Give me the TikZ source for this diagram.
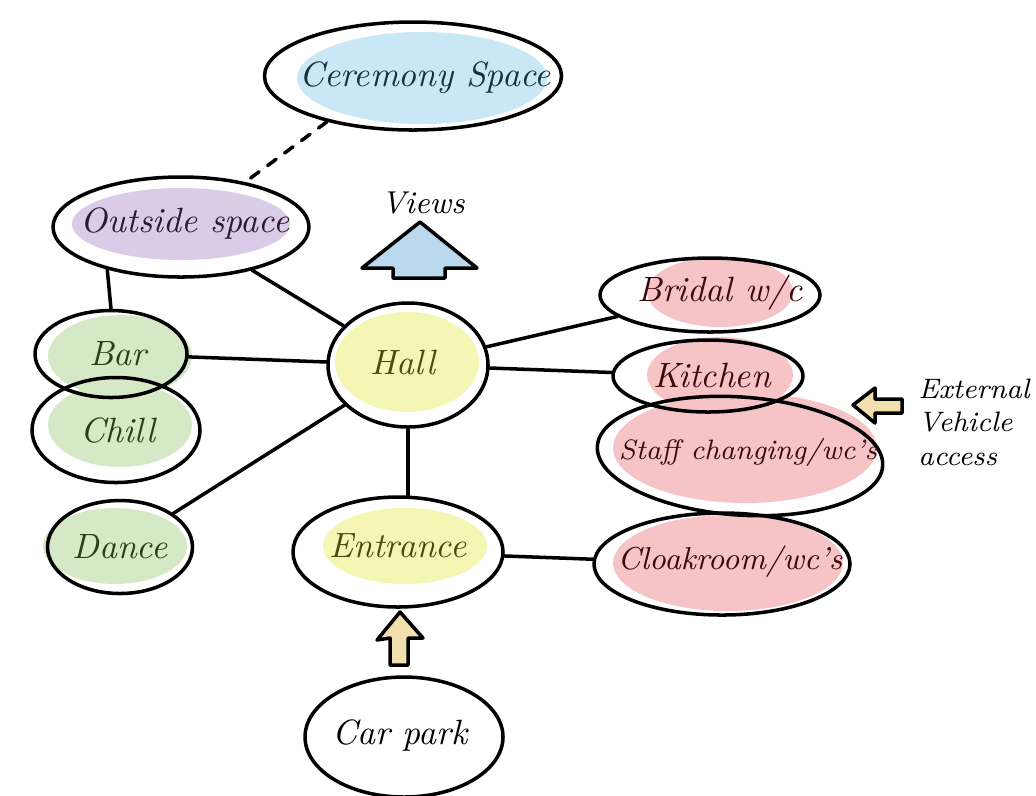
\documentclass[tikz,border=0pt]{standalone}
\usepackage{tikz}
\usetikzlibrary{shapes.geometric}
\definecolor{blueblob}{HTML}{C9E7F5}
\definecolor{purpleblob}{HTML}{DACBE6}
\definecolor{greenblob}{HTML}{D6E9C7}
\definecolor{yellowblob}{HTML}{F6F6B4}
\definecolor{redblob}{HTML}{F6C4C6}
\definecolor{viewsblue}{HTML}{BBD9EE}
\definecolor{tanfill}{HTML}{F1DFAE}
\definecolor{bluetext}{HTML}{16303C}
\definecolor{purpletext}{HTML}{2B1836}
\definecolor{greentext}{HTML}{2F3D12}
\definecolor{yellowtext}{HTML}{4B4B0E}
\definecolor{redtext}{HTML}{3C0A0A}

\begin{document}
\begin{tikzpicture}[x=0.1mm, y=-0.1mm, line join=round, line cap=round,
  room/.style={draw, ellipse, line width=1pt, inner sep=0pt},
  roomtext/.style={inner sep=0pt, font=\itshape},
  link/.style={line width=1pt},
  blockarrow/.style={draw, line width=1pt}]
\useasboundingbox (0,0) rectangle (1036,795);
% highlight blobs
\fill[blueblob] (422,78) ellipse [x radius=12.5mm, y radius=4.6mm];
\fill[purpleblob] (181,224) ellipse [x radius=10.9mm, y radius=3.6mm];
\fill[greenblob] (120,356) ellipse [x radius=7.2mm, y radius=4.1mm];
\fill[greenblob] (120,425) ellipse [x radius=7.2mm, y radius=4.2mm];
\fill[greenblob] (115,546) ellipse [x radius=7.2mm, y radius=3.8mm];
\fill[yellowblob] (407,362) ellipse [x radius=7.2mm, y radius=5mm];
\fill[yellowblob] (405,546) ellipse [x radius=8.2mm, y radius=3.8mm];
\fill[redblob] (720,292) ellipse [x radius=7.3mm, y radius=3.5mm];
\fill[redblob] (745,448) ellipse [x radius=13.2mm, y radius=5.5mm];
\fill[redblob] (720,375) ellipse [x radius=7.3mm, y radius=3.8mm];
\fill[redblob] (728,563) ellipse [x radius=11.5mm, y radius=4.8mm];
% rooms
\node[room, minimum width=29.7mm, minimum height=10.8mm] (ceremony) at (413,76) {};
\node[room, minimum width=25.6mm, minimum height=10mm] (outside) at (181,227) {};
\node[room, minimum width=15.2mm, minimum height=8.7mm] (bar) at (111,354) {};
\node[room, minimum width=16.8mm, minimum height=10.5mm] (chill) at (116,430) {};
\node[room, minimum width=14.5mm, minimum height=9.3mm] (dance) at (120,547) {};
\node[room, minimum width=16mm, minimum height=12.4mm] (hall) at (408,365) {};
\node[room, minimum width=21mm, minimum height=11mm] (entrance) at (398,552) {};
\node[room, minimum width=19.8mm, minimum height=12mm] (carpark) at (404,737) {};
\node[room, minimum width=22mm, minimum height=7.4mm] (bridal) at (710,295) {};
\node[room, minimum width=19mm, minimum height=7.2mm] (kitchen) at (708,376) {};
\node[room, minimum width=28.6mm, minimum height=11.8mm, rotate=-4] (staff) at (740,456) {};
\node[room, minimum width=25.6mm, minimum height=10.2mm] (cloak) at (722,564) {};
% room names
\node[roomtext, text=bluetext] (ceremonyname) at (425,78) {Ceremony Space};
\node[roomtext, text=purpletext] (outsidename) at (185,224) {Outside space};
\node[roomtext, text=greentext] (barname) at (118,354) {Bar};
\node[roomtext, text=greentext] (chillname) at (118,430) {Chill};
\node[roomtext, text=greentext] (dancename) at (120,547) {Dance};
\node[roomtext, text=yellowtext] (hallname) at (403,362) {Hall};
\node[roomtext, text=yellowtext] (entrancename) at (398,546) {Entrance};
\node[roomtext] (carparkname) at (400,735) {Car park};
\node[roomtext, text=redtext] (bridalname) at (720,293) {Bridal w/c};
\node[roomtext, text=redtext] (kitchenname) at (712,375) {Kitchen};
\node[roomtext, text=redtext, font=\itshape\footnotesize] (staffname) at (748,452) {Staff changing/wc's};
\node[roomtext, text=redtext, font=\itshape\small] (cloakname) at (730,562) {Cloakroom/wc's};
% links
\draw[link, dashed] (ceremony.208) -- (outside.35);
\draw[link] (outside.210) -- (bar.north);
\draw[link] (outside) -- (hall);
\draw[link] (bar) -- (hall);
\draw[link] (hall) -- (dance);
\draw[link] (hall.south) -- (hall.south |- entrance.north);
\draw[link] (hall) -- (bridal);
\draw[link] (hall) -- (kitchen);
\draw[link] (entrance) -- (cloak);
% arrows
\node[font=\itshape\small] (views) at (423,203) {Views};
\draw[blockarrow, fill=viewsblue] (420,222) -- (477,268) -- (445,268) -- (445,278)
  -- (393,278) -- (393,268) -- (362,268) -- cycle;
\draw[blockarrow, fill=tanfill] (400,612) -- (423,638) -- (408,638) -- (408,665)
  -- (390,665) -- (390,638) -- (377,640) -- cycle;
\draw[blockarrow, fill=tanfill] (853,405) -- (875,388) -- (875,399) -- (902,399)
  -- (902,413) -- (875,413) -- (875,423) -- cycle;
\node[align=left, anchor=west, font=\itshape\footnotesize] (external) at (906,422) {External\\Vehicle\\access};
\end{tikzpicture}
\end{document}
